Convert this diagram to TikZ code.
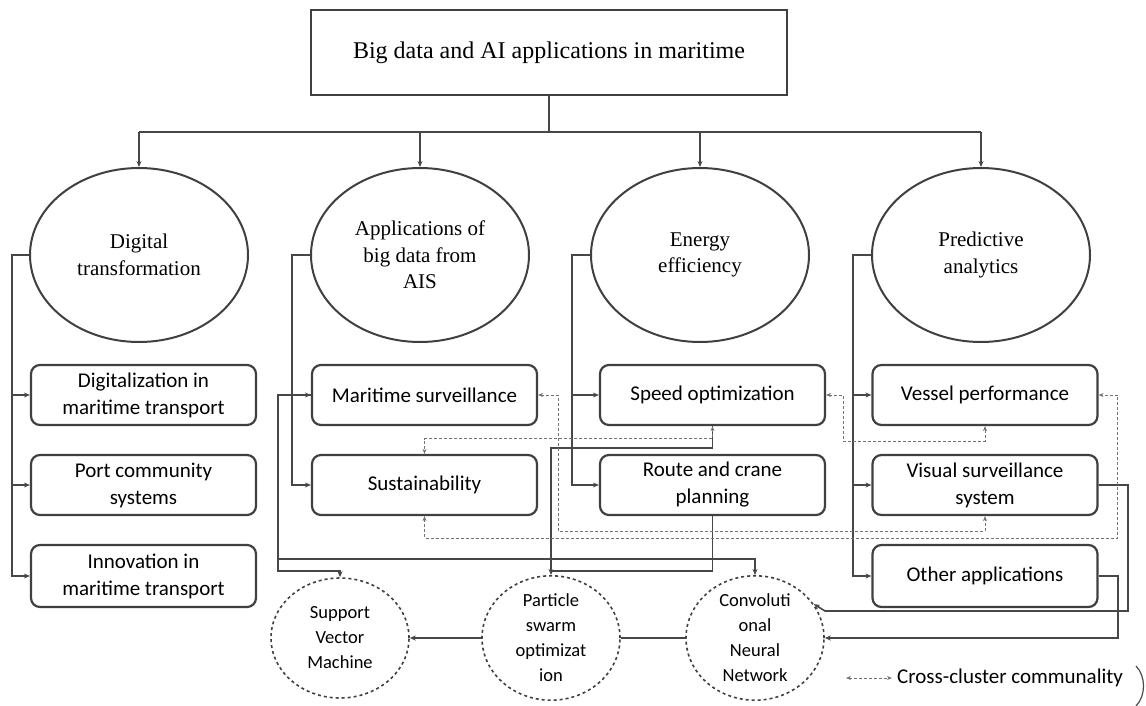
\documentclass[tikz,border=0pt]{standalone}
\usepackage{fontspec}
\setmainfont{Liberation Serif}
\newfontfamily\carl{Carlito}
\usetikzlibrary{shapes.geometric,arrows.meta}
\begin{document}
\begin{tikzpicture}[x=1pt,y=-1pt,
 conn/.style={draw=black!72,line width=1.6pt},
 arr/.style={-{Stealth[length=6pt,width=5pt]}},
 topbox/.style={draw=black!75,line width=2pt,minimum width=476pt,minimum height=85pt,inner sep=0pt,font=\fontsize{24}{28}\selectfont},
 cat/.style={ellipse,draw=black!75,line width=2pt,minimum width=218pt,minimum height=174pt,inner sep=0pt,align=center,font=\fontsize{21}{26.5}\selectfont},
 sub/.style={rounded corners=9pt,draw=black!75,line width=2.2pt,minimum width=225pt,minimum height=60pt,inner sep=0pt,align=center,font=\carl\fontsize{21}{27}\selectfont},
 algo/.style={ellipse,dashed,draw=black!75,line width=1.6pt,minimum width=138pt,minimum height=120pt,inner sep=0pt,align=center,font=\carl\fontsize{18.5}{25}\selectfont},
 xcl/.style={draw=black!55,dash pattern=on 3pt off 2pt,line width=0.9pt,{Stealth[length=5pt,width=4pt]}-{Stealth[length=5pt,width=4pt]}}
]
\useasboundingbox (0,0) rectangle (1146,706);
\fill[white] (0,0) rectangle (1146,706);

% top and categories
\node[topbox] (top) at (549,52.5) {Big data and AI applications in maritime};
\node[cat] (e1) at (139,255) {Digital\\transformation};
\node[cat] (e2) at (420,255) {Applications of\\big data from\\AIS};
\node[cat] (e3) at (700,255) {Energy\\efficiency};
\node[cat] (e4) at (981,255) {Predictive\\analytics};

\coordinate (bar) at (549,132);
\draw[conn] (top.south) -- (bar);
\draw[conn] (e1.north |- bar) -- (e4.north |- bar);
\draw[conn,arr] (e1.north |- bar) -- (e1.north);
\draw[conn,arr] (e2.north |- bar) -- (e2.north);
\draw[conn,arr] (e3.north |- bar) -- (e3.north);
\draw[conn,arr] (e4.north |- bar) -- (e4.north);

% sub boxes
\node[sub] (b11) at (143.5,395) {Digitalization in\\maritime transport};
\node[sub] (b12) at (143.5,485) {Port community\\systems};
\node[sub,minimum height=62pt] (b13) at (143.5,576) {Innovation in\\maritime transport};
\node[sub] (b21) at (424.5,395) {Maritime surveillance};
\node[sub] (b22) at (424.5,485) {Sustainability};
\node[sub] (b31) at (712.5,395) {Speed optimization};
\node[sub] (b32) at (712.5,485) {Route and crane\\planning};
\node[sub] (b41) at (985,395) {Vessel performance};
\node[sub] (b42) at (985,485) {Visual surveillance\\system};
\node[sub,minimum height=62pt] (b43) at (985,576) {Other applications};

% column connectors
\draw[conn,arr] (e1.west) -- (12,255) |- (b11.west);
\draw[conn,arr] (e1.west) -- (12,255) |- (b12.west);
\draw[conn,arr] (e1.west) -- (12,255) |- (b13.west);
\draw[conn,arr] (e2.west) -- (292,255) |- (b21.west);
\draw[conn,arr] (e2.west) -- (292,255) |- (b22.west);
\draw[conn,arr] (e3.west) -- (572,255) |- (b31.west);
\draw[conn,arr] (e3.west) -- (572,255) |- (b32.west);
\draw[conn,arr] (e4.west) -- (853,255) |- (b41.west);
\draw[conn,arr] (e4.west) -- (853,255) |- (b42.west);
\draw[conn,arr] (e4.west) -- (853,255) |- (b43.west);

% algorithms
\node[algo] (svm) at (340,638) {Support\\Vector\\Machine};
\node[algo] (pso) at (551,638) {Particle\\swarm\\optimizat\\ion};
\node[algo] (cnn) at (755,638) {Convoluti\\onal\\Neural\\Network};

\draw[conn,arr] (b21.west) -- (278,395) |- ([yshift=6pt]svm.north) -- (svm.north);
\draw[conn,arr] (b21.west) -- (278,395) |- ([yshift=16pt]cnn.north) -- (cnn.north);
\draw[conn,arr] (b31.south) -- ++(0,22) -| (pso.north);
\draw[conn] (b32.south) |- ([yshift=4pt]pso.north);
\draw[conn,arr] (b42.east) -- (1128,485) |- (825,611) -- (cnn.30);
\draw[conn,arr] (b43.east) -- (1118,576) |- (cnn.east);
\draw[conn,{Stealth[length=6pt,width=5pt]}-] (svm.east) -- (pso.west);
\draw[conn] (pso.east) -- (cnn.west);

% cross-cluster communality
\draw[xcl] (b31.east) -- ++(17,0) |- ([yshift=-15pt]b41.south) -- (b41.south);
\draw[xcl] (b31.south) |- ([yshift=15pt]b22.north) -- (b22.north);
\draw[xcl] (b21.east) -- ++(20,0) |- ([yshift=-15pt]b42.south) -- (b42.south);
\draw[xcl] (b22.south) -- ++(0,22) -| ([xshift=19pt]b41.east) -- (b41.east);

% legend
\node[font=\carl\fontsize{21}{25}\selectfont,anchor=west,inner sep=0pt] (leg) at (897,678) {Cross-cluster communality};
\coordinate (legs) at (846,678);
\draw[xcl] (legs) -- ([xshift=-5pt]leg.west);
\draw[black!70,line width=1.2pt] (1136,666) .. controls (1146,676) and (1146,696) .. (1136,706);
\end{tikzpicture}
\end{document}
